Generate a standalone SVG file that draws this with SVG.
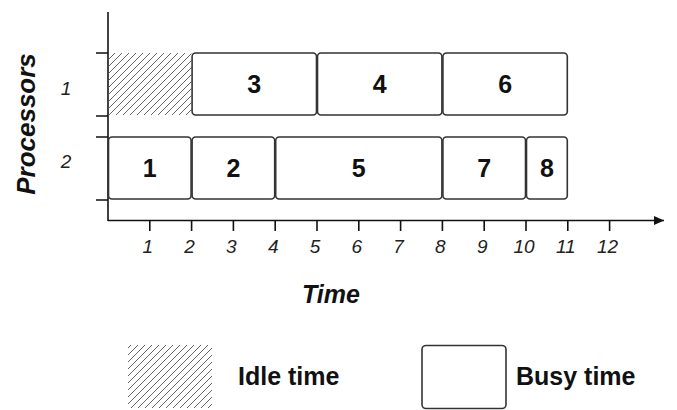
<svg xmlns="http://www.w3.org/2000/svg" width="677" height="410" viewBox="0 0 677 410">
<defs>
<style>
.box{fill:#fff;stroke:#333;stroke-width:1.6}
.axis{stroke:#111;stroke-width:1.6;fill:none}
.num{font-family:"Liberation Sans",Arial,sans-serif;font-weight:bold;font-size:25px;fill:#111;text-anchor:middle}
.tick{font-family:"Liberation Sans",Arial,sans-serif;font-style:italic;font-size:19px;fill:#222;text-anchor:middle}
.title{font-family:"Liberation Sans",Arial,sans-serif;font-style:italic;font-weight:bold;font-size:25px;fill:#111;text-anchor:middle}
.leg{font-family:"Liberation Sans",Arial,sans-serif;font-weight:bold;font-size:25px;fill:#111}
</style>
<pattern id="hatch" patternUnits="userSpaceOnUse" width="7" height="7">
<path d="M-1,8 L8,-1 M-4.5,4.5 L4.5,-4.5 M2.5,11.5 L11.5,2.5" stroke="#666" stroke-width="1"/>
</pattern>
<marker id="arrow" markerWidth="10" markerHeight="10" refX="10" refY="5" orient="auto" markerUnits="userSpaceOnUse">
<path d="M0,0.5 L10,5 L0,9.5 Z" fill="#111"/>
</marker>
</defs>
<rect width="677" height="410" fill="#fff"/>

<g id="connectors">
<line class="axis" x1="108" y1="12" x2="108" y2="221"/>
<line class="axis" x1="108" y1="220.5" x2="664" y2="220.5" marker-end="url(#arrow)"/>
<path class="axis" d="M96,53 H108 M96,116 H108 M96,137 H108 M96,200 H108"/>
<path class="axis" d="M149.8,220.5 V231 M191.6,220.5 V231 M233.4,220.5 V231 M275.2,220.5 V231 M317,220.5 V231 M358.8,220.5 V231 M400.6,220.5 V231 M442.4,220.5 V231 M484.2,220.5 V231 M526,220.5 V231 M567.8,220.5 V231 M609.6,220.5 V231"/>
</g>

<g id="axis-labels">
<text class="title" style="font-size:26px" transform="translate(35,124) rotate(-90)">Processors</text>
<text class="tick" x="66" y="95">1</text>
<text class="tick" x="66" y="168">2</text>
<text class="tick" x="147.8" y="253">1</text>
<text class="tick" x="189.6" y="253">2</text>
<text class="tick" x="231.4" y="253">3</text>
<text class="tick" x="273.2" y="253">4</text>
<text class="tick" x="315" y="253">5</text>
<text class="tick" x="356.8" y="253">6</text>
<text class="tick" x="398.6" y="253">7</text>
<text class="tick" x="440.4" y="253">8</text>
<text class="tick" x="482.2" y="253">9</text>
<text class="tick" x="524" y="253">10</text>
<text class="tick" x="565.8" y="253">11</text>
<text class="tick" x="607.6" y="253">12</text>
<text class="title" x="331" y="303">Time</text>
</g>

<g id="idle">
<rect x="108.5" y="53" width="83" height="62" fill="url(#hatch)"/>
</g>

<g id="task3"><rect class="box" x="192.1" y="53" width="124.4" height="62" rx="3.5"/><text class="num" x="254.3" y="92.5">3</text></g>
<g id="task4"><rect class="box" x="317.5" y="53" width="124.4" height="62" rx="3.5"/><text class="num" x="379.7" y="92.5">4</text></g>
<g id="task6"><rect class="box" x="442.9" y="53" width="124.4" height="62" rx="3.5"/><text class="num" x="505.1" y="92.5">6</text></g>

<g id="task1"><rect class="box" x="108.5" y="137" width="82.6" height="62" rx="3.5"/><text class="num" x="149.8" y="176.5">1</text></g>
<g id="task2"><rect class="box" x="192.1" y="137" width="82.6" height="62" rx="3.5"/><text class="num" x="233.4" y="176.5">2</text></g>
<g id="task5"><rect class="box" x="275.7" y="137" width="166.2" height="62" rx="3.5"/><text class="num" x="358.8" y="176.5">5</text></g>
<g id="task7"><rect class="box" x="442.9" y="137" width="82.6" height="62" rx="3.5"/><text class="num" x="484.2" y="176.5">7</text></g>
<g id="task8"><rect class="box" x="526.5" y="137" width="40.8" height="62" rx="3.5"/><text class="num" x="546.9" y="176.5">8</text></g>

<g id="legend-idle">
<rect x="128" y="345" width="84" height="63" fill="url(#hatch)"/>
<text class="leg" x="238" y="385">Idle time</text>
</g>
<g id="legend-busy">
<rect class="box" x="422" y="345.5" width="84" height="63" rx="4"/>
<text class="leg" x="516" y="385">Busy time</text>
</g>
</svg>
